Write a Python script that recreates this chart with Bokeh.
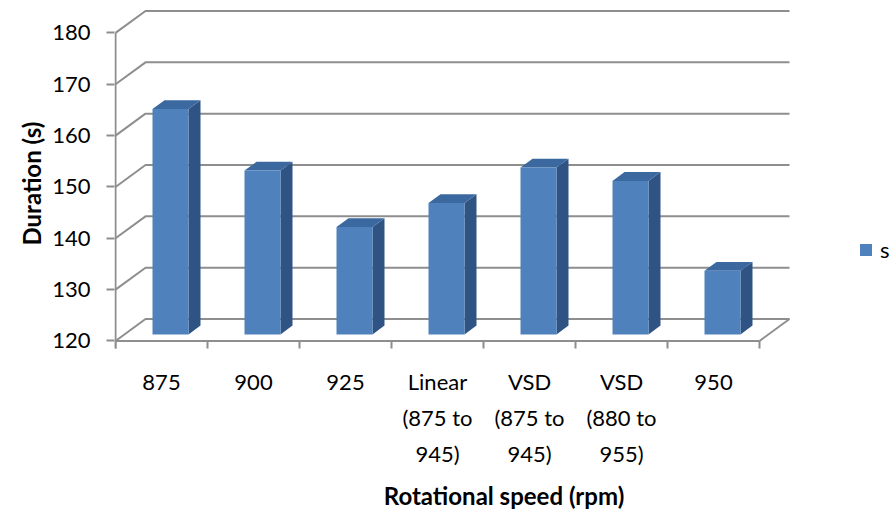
from bokeh.plotting import figure
from bokeh.models import Range1d, LinearAxis, FixedTicker, Legend, LegendItem, Title
from bokeh.embed import file_html
from bokeh.resources import INLINE

# ---- data ----
categories = ["875", "900", "925", "Linear\n(875 to\n945)", "VSD\n(875 to\n945)",
              "VSD\n(880 to\n955)", "950"]
durations = [163.9, 151.9, 140.9, 145.6, 152.5, 149.9, 132.4]
y_ticks = [120, 130, 140, 150, 160, 170, 180]
series_name = "s"
x_title = "Rotational speed (rpm)"
y_title = "Duration (s)"

# ---- layout constants (pixels) ----
W, H = 893, 513
LEFT = 114          # frame left edge
BOTTOM_PX = 367     # frame bottom edge
AXIS_X_PX = 115     # front vertical axis
BASE_PX = 357       # front floor edge
PX_X = 92.0         # px per category
PX_Y = (357 - 34) / 60.0  # px per value unit
DX = 30 / PX_X      # depth offset (x, data units)
DY = 23 / PX_Y      # depth offset (y, data units)

FRONT = "#4F81BD"
SIDE = "#2F5483"
TOP = "#3C68A0"
GRID = "#8E8E8E"
FONT = "Lato"

n = len(categories)
y0, y1 = y_ticks[0], y_ticks[-1]

x_range = Range1d(0.5 - (AXIS_X_PX - LEFT) / PX_X, 0.5 + (W - AXIS_X_PX) / PX_X)
y_range = Range1d(y0 - (BOTTOM_PX - BASE_PX) / PX_Y, y0 + BASE_PX / PX_Y)

p = figure(width=W, height=H, x_range=x_range, y_range=y_range,
           x_axis_type=None, y_axis_type=None,
           min_border_left=LEFT, min_border_bottom=H - BOTTOM_PX,
           min_border_top=0, min_border_right=0,
           toolbar_location=None, output_backend="svg")
p.outline_line_color = None
p.background_fill_color = "white"

# ---- walls / gridlines ----
xl_wall, xr_wall = 0.5, n + 0.5
gxs = [[xl_wall, xl_wall + DX, xr_wall + DX] for v in y_ticks]
gys = [[v, v + DY, v + DY] for v in y_ticks]
p.multi_line(gxs, gys, line_color=GRID, line_width=2)
# floor right edge and front edge
p.multi_line([[xr_wall, xr_wall + DX], [xl_wall, xr_wall]],
             [[y0, y0 + DY], [y0, y0]], line_color=GRID, line_width=2)
# front vertical axis line
tick_len = 8 / PX_Y
p.segment(x0=[xl_wall], y0=[y0 - tick_len], x1=[xl_wall], y1=[y1],
          line_color=GRID, line_width=2)
# category boundary ticks
bounds = [i + 0.5 for i in range(n + 1)]
p.segment(x0=bounds, y0=[y0] * len(bounds), x1=bounds, y1=[y0 - tick_len] * len(bounds),
          line_color=GRID, line_width=2)

# ---- 3D bars ----
half = 18 / PX_X
d0, d1 = 0.3, 0.7
dd = d1 - d0
fx, fy, sx, sy, tx, ty = [], [], [], [], [], []
for i, v in enumerate(durations):
    c = i + 1
    xl = c - half + d0 * DX
    xr = c + half + d0 * DX
    yb = y0 + d0 * DY
    yt = v + d0 * DY
    fx.append([xl, xr, xr, xl]); fy.append([yb, yb, yt, yt])
    sx.append([xr, xr + dd * DX, xr + dd * DX, xr])
    sy.append([yb, yb + dd * DY, yt + dd * DY, yt])
    tx.append([xl, xr, xr + dd * DX, xl + dd * DX])
    ty.append([yt, yt, yt + dd * DY, yt + dd * DY])

p.patches(sx, sy, fill_color=SIDE, line_color=None)
p.patches(tx, ty, fill_color=TOP, line_color=None)
front_r = p.patches(fx, fy, fill_color=FRONT, line_color=None)

# ---- axes ----
yax = LinearAxis(ticker=FixedTicker(ticks=y_ticks))
yax.axis_line_color = None
yax.major_tick_out = 8
yax.major_tick_in = 0
yax.minor_tick_line_color = None
yax.major_tick_line_color = GRID
yax.major_tick_line_width = 2
yax.major_label_standoff = 16
yax.major_label_text_font = FONT
yax.major_label_text_font_size = "22px"
yax.major_label_text_color = "#000000"
p.add_layout(yax, "left")

ytitle = Title(text=y_title, align="left", offset=(BOTTOM_PX - 262),
               text_font=FONT, text_font_size="24px", text_font_style="bold",
               text_color="#000000", standoff=8)
p.add_layout(ytitle, "left")

xax = LinearAxis(ticker=FixedTicker(ticks=[i + 1 for i in range(n)]))
xax.major_label_overrides = {i + 1: lab for i, lab in enumerate(categories)}
xax.axis_line_color = None
xax.major_tick_line_color = None
xax.minor_tick_line_color = None
xax.major_tick_out = 0
xax.major_tick_in = 0
xax.major_label_standoff = 17
xax.major_label_text_font = FONT
xax.major_label_text_font_size = "22px"
xax.major_label_text_color = "#000000"
xax.major_label_text_line_height = 1.35
xax.axis_label = x_title
xax.axis_label_text_font = FONT
xax.axis_label_text_font_size = "24px"
xax.axis_label_text_font_style = "bold"
xax.axis_label_text_color = "#000000"
xax.axis_label_standoff = 11
p.add_layout(xax, "below")

# ---- legend ----
legend = Legend(items=[LegendItem(label=series_name, renderers=[front_r])],
                location=(858 - LEFT, BOTTOM_PX - 280),
                border_line_color=None, background_fill_alpha=0,
                padding=0, margin=0, spacing=0,
                glyph_width=15, glyph_height=15, label_standoff=7,
                label_text_font=FONT, label_text_font_size="22px",
                label_text_color="#000000")
p.add_layout(legend)

open("out.html", "w").write(file_html(p, INLINE))
